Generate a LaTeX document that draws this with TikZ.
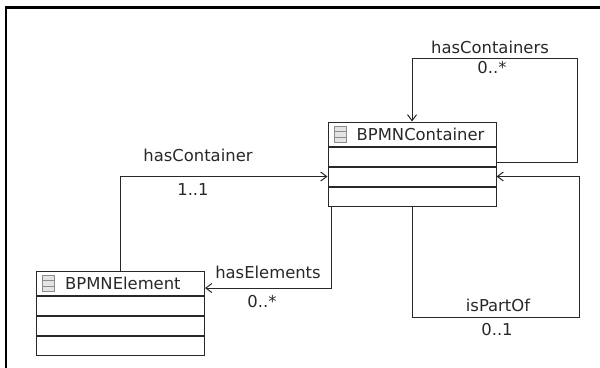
\documentclass[tikz,border=0pt]{standalone}
\usepackage{fontspec}
\setmainfont{DejaVu Sans}
\usetikzlibrary{positioning,arrows.meta}
\definecolor{umlline}{RGB}{40,40,40}
\definecolor{icongray}{RGB}{140,140,140}
\definecolor{iconfill}{RGB}{228,228,228}

\begin{document}
\begin{tikzpicture}[x=1pt,y=-1pt,>={Straight Barb[length=6pt,width=9pt]},node distance=0pt,
	every node/.style={font=\fontsize{16.4}{19}\selectfont},
	classhead/.style={draw=umlline,line width=1pt,minimum width=168pt,minimum height=24pt,inner sep=0pt},
	compart/.style={draw=umlline,line width=1pt,minimum width=168pt,minimum height=19pt,inner sep=0pt},
	classicon/.style={draw=icongray,fill=iconfill,line width=0.8pt,minimum width=12pt,minimum height=16pt,inner sep=0pt},
	assoc/.style={->,draw=umlline,line width=1pt},
	lbl/.style={inner sep=0pt,text=umlline}]
	\useasboundingbox (0,0) rectangle (600,367);
	\draw[line width=2.6pt,line cap=rect] (6,367) -- (6,7.5) -- (600,7.5);

	% classes
	\node[classhead] (cont) at (412,134) {};
	\node[compart] (cont1) [below=of cont] {};
	\node[compart] (cont2) [below=of cont1] {};
	\node[compart] (cont3) [below=of cont2] {};
	\node[classhead] (elem) at (120.5,283) {};
	\node[compart] (elem1) [below=of elem] {};
	\node[compart] (elem2) [below=of elem1] {};
	\node[compart] (elem3) [below=of elem2] {};

	% class names with icons
	\foreach \cls/\name in {cont/BPMNContainer,elem/BPMNElement}{
		\node[classicon] (\cls ico) at ([xshift=12.5pt]\cls.west) {};
		\draw[icongray,line width=0.8pt] ([yshift=-5.3pt]\cls ico.north west) -- ([yshift=-5.3pt]\cls ico.north east)
			([yshift=5.3pt]\cls ico.south west) -- ([yshift=5.3pt]\cls ico.south east);
		\node[lbl,anchor=west] (\cls name) at ([xshift=29pt]\cls.west) {\name};
	}

	\coordinate (topturn) at (577,58);
	\coordinate (botturn) at (579,317);

	% associations
	\draw[assoc] (elem.north) |- (cont2.west);
	\draw[assoc] ([xshift=4pt]cont3.south west) |- ([yshift=-5pt]elem.east);
	\draw[assoc] ([yshift=-6pt]cont1.east) -| (topturn) -| (cont.north);
	\draw[assoc] (cont3.south) |- (botturn) |- (cont2.east);

	% role names and multiplicities
	\node[lbl] (hascont) at (198,155) {hasContainer};
	\node[lbl] (mulcont) at (193,190) {1..1};
	\node[lbl] (haselem) at (268,272) {hasElements};
	\node[lbl] (mulelem) at (262,302) {0..*};
	\node[lbl] (hasconts) at (490,47) {hasContainers};
	\node[lbl] (mulconts) at (492,68) {0..*};
	\node[lbl] (partof) at (498,305) {isPartOf};
	\node[lbl] (mulpart) at (497,330) {0..1};
\end{tikzpicture}
\end{document}
